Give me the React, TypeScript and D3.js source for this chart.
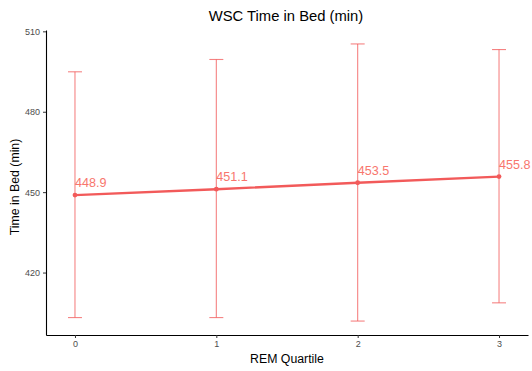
import React, { useEffect, useRef } from 'react';
import * as d3 from 'd3';

const quartiles = [0, 1, 2, 3];
const means = [448.9, 451.1, 453.5, 455.8];
const lower = [403.2, 403.2, 401.9, 408.7];
const upper = [494.9, 499.5, 505.3, 503.2];
const yTicks = [420, 450, 480, 510];

const W = 532;
const H = 371;
const RED = '#F8766D';
const LINE_RED = '#F25A5A';
const FONT = 'Liberation Sans, Arial, Helvetica, sans-serif';

const App = () => {
  const svgRef = useRef<SVGSVGElement>(null);

  useEffect(() => {
    const svg = d3.select(svgRef.current);
    svg.selectAll('*').remove();

    const data = quartiles.map((q, i) => ({ q, m: means[i], lo: lower[i], hi: upper[i] }));

    const x = d3.scaleLinear().domain([-0.205, 3.205]).range([46, 528]);
    const y = d3.scaleLinear().domain([396.7, 510.5]).range([335, 30]);

    // axes
    const xAxis = svg
      .append('g')
      .attr('transform', 'translate(0,335)')
      .call(
        d3.axisBottom(x).tickValues(quartiles).tickFormat(d3.format('d')).tickSizeInner(3).tickSizeOuter(0).tickPadding(3)
      );
    const yAxis = svg
      .append('g')
      .attr('transform', 'translate(46,0)')
      .call(d3.axisLeft(y).tickValues(yTicks).tickSizeInner(3).tickSizeOuter(0).tickPadding(3));

    [xAxis, yAxis].forEach((g) => {
      g.select('.domain').attr('stroke', '#000').attr('stroke-width', 1.1);
      g.selectAll('.tick line').attr('stroke', '#333');
      g.selectAll('.tick text').attr('fill', '#4d4d4d').attr('font-size', 9).attr('font-family', FONT);
    });

    // error bars
    const eb = svg.append('g').attr('stroke', LINE_RED).attr('stroke-opacity', 0.75).attr('stroke-width', 1.1);
    data.forEach((d) => {
      const cx = x(d.q);
      eb.append('line').attr('x1', cx).attr('x2', cx).attr('y1', y(d.lo)).attr('y2', y(d.hi));
      eb.append('line').attr('x1', cx - 7).attr('x2', cx + 7).attr('y1', y(d.lo)).attr('y2', y(d.lo));
      eb.append('line').attr('x1', cx - 7).attr('x2', cx + 7).attr('y1', y(d.hi)).attr('y2', y(d.hi));
    });

    // line
    const line = d3
      .line<{ q: number; m: number }>()
      .x((d) => x(d.q))
      .y((d) => y(d.m));
    svg.append('path').datum(data).attr('d', line).attr('fill', 'none').attr('stroke', LINE_RED).attr('stroke-width', 2.4);

    svg
      .selectAll('circle.pt')
      .data(data)
      .enter()
      .append('circle')
      .attr('cx', (d) => x(d.q))
      .attr('cy', (d) => y(d.m))
      .attr('r', 2.4)
      .attr('fill', LINE_RED);

    svg
      .selectAll('text.lbl')
      .data(data)
      .enter()
      .append('text')
      .attr('x', (d) => x(d.q))
      .attr('y', (d) => y(d.m) - 8)
      .attr('fill', RED)
      .attr('font-size', 12.6)
      .attr('font-family', FONT)
      .text((d) => d.m.toFixed(1));

    // titles
    svg
      .append('text')
      .attr('x', 286)
      .attr('y', 21)
      .attr('text-anchor', 'middle')
      .attr('font-size', 14.8)
      .attr('font-family', FONT)
      .attr('fill', '#000')
      .text('WSC Time in Bed (min)');
    svg
      .append('text')
      .attr('x', 287)
      .attr('y', 362.5)
      .attr('text-anchor', 'middle')
      .attr('font-size', 12.3)
      .attr('font-family', FONT)
      .attr('fill', '#000')
      .text('REM Quartile');
    svg
      .append('text')
      .attr('transform', 'translate(19,187) rotate(-90)')
      .attr('text-anchor', 'middle')
      .attr('font-size', 12.3)
      .attr('font-family', FONT)
      .attr('fill', '#000')
      .text('Time in Bed (min)');
  }, []);

  return (
    <svg
      ref={svgRef}
      width={W}
      height={H}
      style={{ position: 'absolute', left: 0, top: 0, background: '#fff' }}
    ></svg>
  );
};

export default App;
